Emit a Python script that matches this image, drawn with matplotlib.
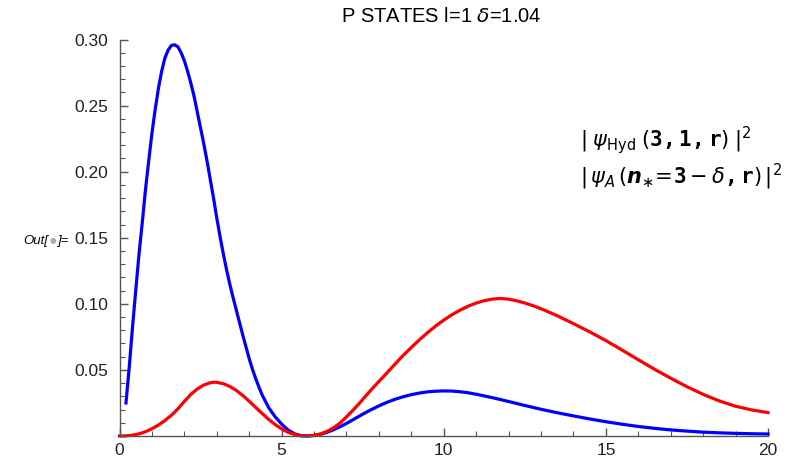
import matplotlib
matplotlib.use("Agg")
import matplotlib.pyplot as plt
from matplotlib.ticker import MultipleLocator

plt.rcParams['font.family'] = ['Liberation Sans', 'DejaVu Sans']
plt.rcParams['mathtext.fontset'] = 'custom'
plt.rcParams['mathtext.rm'] = 'DejaVu Sans'
plt.rcParams['mathtext.it'] = 'DejaVu Sans:italic'
plt.rcParams['mathtext.bf'] = 'DejaVu Sans Mono:bold'
plt.rcParams['mathtext.bfit'] = 'DejaVu Sans:italic:bold'

# hydrogen 3p  (blue)
r_hyd = [0.2, 0.3, 0.4, 0.5, 0.6, 0.7, 0.8, 0.9, 1.0, 1.1, 1.2, 1.3, 1.4,
         1.5, 1.6, 1.7, 1.8, 1.9, 2.0, 2.1, 2.2, 2.3, 2.4, 2.5, 2.6, 2.7,
         2.8, 2.9, 3.0, 3.1, 3.2, 3.3, 3.4, 3.5, 3.6, 3.7, 3.8, 3.9, 4.0,
         4.1, 4.2, 4.3, 4.4, 4.6, 4.8, 5.0, 5.2, 5.4, 5.6, 5.77, 6.0, 6.2,
         6.4, 6.6, 6.8, 7.0, 7.25, 7.5, 7.75, 8.0, 8.25, 8.5, 8.75, 9.0,
         9.25, 9.5, 9.75, 10.0, 10.25, 10.5, 10.75, 11.0, 11.5, 12.0, 12.5,
         13.0, 13.5, 14.0, 14.5, 15.0, 15.5, 16.0, 16.5, 17.0, 17.5, 18.0,
         18.5, 19.0, 19.5, 20.0]
p_hyd = [0.025, 0.052, 0.082, 0.110, 0.137, 0.161, 0.186, 0.208, 0.229,
         0.247, 0.263, 0.276, 0.286, 0.292, 0.2955, 0.296, 0.2945, 0.290,
         0.284, 0.276, 0.267, 0.257, 0.245, 0.233, 0.221, 0.208, 0.194,
         0.180, 0.165, 0.151, 0.138, 0.126, 0.115, 0.105, 0.0955, 0.086,
         0.0765, 0.0675, 0.0585, 0.0505, 0.0435, 0.037, 0.031, 0.0215,
         0.0145, 0.0090, 0.0045, 0.0016, 0.0003, 0.0, 0.0004, 0.0013,
         0.0028, 0.0047, 0.0070, 0.0095, 0.0130, 0.0165, 0.0198, 0.0228,
         0.0255, 0.0278, 0.0297, 0.0313, 0.0325, 0.0334, 0.0339, 0.0341,
         0.0340, 0.0335, 0.0327, 0.0316, 0.0290, 0.0261, 0.0231, 0.0202,
         0.0176, 0.0152, 0.0129, 0.0108, 0.0089, 0.0072, 0.0058, 0.0046,
         0.0037, 0.0029, 0.0024, 0.0020, 0.0017, 0.0015]

# quantum defect state n* = 3 - delta  (red)
r_qd = [0.0, 0.2, 0.4, 0.6, 0.8, 1.0, 1.2, 1.4, 1.6, 1.8, 2.0, 2.2, 2.4, 2.6,
        2.8, 2.9, 3.0, 3.2, 3.4, 3.6, 3.8, 4.0, 4.2, 4.4, 4.6, 4.8, 5.0, 5.2,
        5.4, 5.6, 5.77, 6.0, 6.2, 6.4, 6.6, 6.8, 7.0, 7.2, 7.4, 7.6, 7.8,
        8.0, 8.25, 8.5, 8.75, 9.0, 9.25, 9.5, 9.75, 10.0, 10.25, 10.5,
        10.75, 11.0, 11.25, 11.5, 11.75, 12.0, 12.25, 12.5, 12.75, 13.0,
        13.5, 14.0, 14.5, 15.0, 15.5, 16.0, 16.5, 17.0, 17.5, 18.0, 18.5,
        19.0, 19.5, 20.0]
p_qd = [0.0, 0.0001, 0.0006, 0.0016, 0.0032, 0.0055, 0.0083, 0.0117,
        0.0157, 0.0205, 0.0262, 0.0315, 0.0356, 0.0386, 0.0403, 0.0407,
        0.0406, 0.0396, 0.0375, 0.0345, 0.0307, 0.0263, 0.0216, 0.0170,
        0.0126, 0.0087, 0.0054, 0.0028, 0.0011, 0.0002, 0.0, 0.0005,
        0.0016, 0.0035, 0.0062, 0.0098, 0.0145, 0.0195, 0.0248, 0.0305,
        0.0360, 0.0413, 0.0478, 0.0545, 0.0610, 0.0670, 0.0728, 0.0782,
        0.0832, 0.0877, 0.0917, 0.0952, 0.0982, 0.1006, 0.1024, 0.1036,
        0.1041, 0.1035, 0.1023, 0.1006, 0.0986, 0.0963, 0.0910, 0.0850,
        0.0788, 0.0722, 0.0650, 0.0577, 0.0505, 0.0437, 0.0373, 0.0315,
        0.0265, 0.0225, 0.0197, 0.0177]

W, H = 787, 458
fig = plt.figure(figsize=(W / 100, H / 100), dpi=100)
ax = fig.add_axes([119.5 / W, 1 - 436 / H, (768 - 119.5) / W, (436 - 39.5) / H])

ax.plot(r_hyd, p_hyd, color=(0, 0, 1), lw=2.3, clip_on=False)
ax.plot(r_qd, p_qd, color=(1, 0, 0), lw=2.3, clip_on=False)

ax.set_xlim(0, 20)
ax.set_ylim(0, 0.30)
for s in ['top', 'right']:
    ax.spines[s].set_visible(False)
for s in ['left', 'bottom']:
    ax.spines[s].set_color('#555555')
    ax.spines[s].set_linewidth(1.0)

ax.xaxis.set_major_locator(MultipleLocator(5))
ax.xaxis.set_minor_locator(MultipleLocator(1))
ax.yaxis.set_major_locator(MultipleLocator(0.05))
ax.yaxis.set_minor_locator(MultipleLocator(0.01))
ax.set_yticks([0.05, 0.10, 0.15, 0.20, 0.25, 0.30])
ax.set_yticklabels(['0.05', '0.10', '0.15', '0.20', '0.25', '0.30'])
ax.tick_params(which='both', direction='in', color='#555555', labelsize=12.5,
               labelcolor='#222222')
ax.tick_params(which='major', length=6, width=1.0)
ax.tick_params(which='minor', length=3.5, width=0.8)
ax.tick_params(axis='x', pad=5)
ax.tick_params(axis='y', pad=8)

fig.text(441 / W, 1 - 17 / H, r'P STATES l=1 $\delta$=1.04', ha='center',
         va='center', fontsize=14.5)

fig.text(580 / W, 1 - 140 / H,
         r'$|\;\psi_{\mathrm{Hyd}}\;(\mathbf{3,1,r})\;|^{2}$',
         ha='left', va='center', fontsize=15)
fig.text(580 / W, 1 - 177 / H,
         r'$|\,\psi_{A}\,(\mathbfit{n}_{\ast}\!=\!\mathbf{3}-\delta\mathbf{,r})\,|^{2}$',
         ha='left', va='center', fontsize=15)

fig.text(48 / W, 1 - 241 / H, 'Out[', ha='right', va='center', fontsize=9.5,
         style='italic')
fig.text(52.5 / W, 1 - 241 / H, '\u25cf', ha='center', va='center', fontsize=5.5,
         color='#aaaaaa', family='DejaVu Sans')
fig.text(57 / W, 1 - 241 / H, ']=', ha='left', va='center', fontsize=9.5,
         style='italic')

fig.savefig('out.png', dpi=100)
